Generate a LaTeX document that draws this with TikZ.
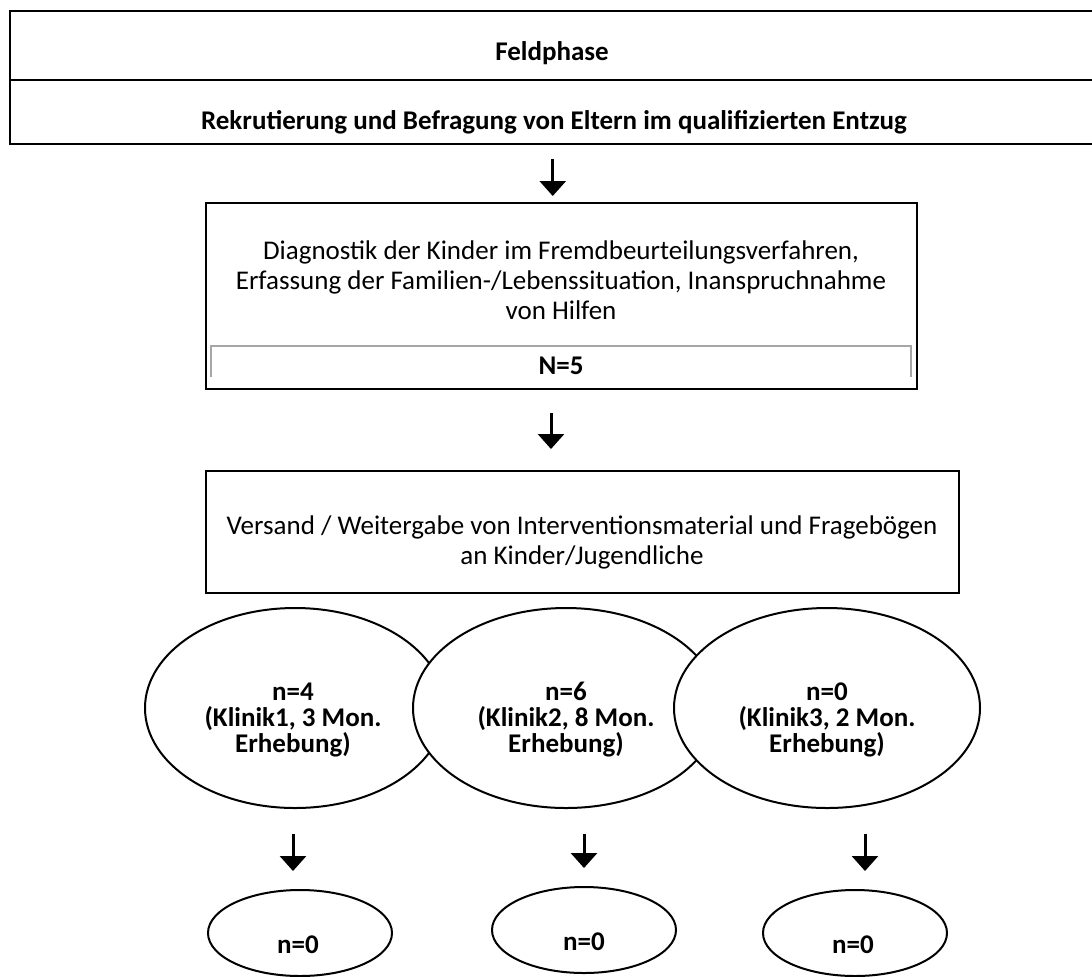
\documentclass[tikz,border=0pt]{standalone}
\usepackage{fontspec}
\setmainfont{Carlito}
\usetikzlibrary{shapes.geometric,arrows.meta}

\tikzset{
  frame/.style={draw, line width=1pt, inner sep=0pt},
  oval/.style={draw, ellipse, line width=1pt, fill=white, inner sep=0pt},
  arr/.style={-{Triangle[width=13pt,length=7.5pt]}, line width=1.5pt},
  innerline/.style={gray!70, line width=1pt},
  txt/.style={align=center, inner sep=0pt},
  bold/.style={txt, font=\fontsize{13.5}{15}\selectfont\bfseries},
  ovtxt/.style={txt, font=\fontsize{13.5}{13}\selectfont\bfseries}
}

\begin{document}
\begin{tikzpicture}[x=0.5pt, y=-0.5pt, font=\fontsize{13.5}{15}\selectfont]
    \useasboundingbox (0,0) rectangle (1092,976);

    % Feldphase
    \node[frame, minimum width=543.25pt, minimum height=34.75pt] (feld) at (552.75,45.25) {};
    \node[frame, minimum width=543.25pt, minimum height=32pt] (rekru) at (552.75,112) {};
    \node[bold] (feldtxt) at (552,53) {Feldphase};
    \node[bold] (rekrutxt) at (554,122) {Rekrutierung und Befragung von Eltern im qualifizierten Entzug};

    % Diagnostik
    \node[frame, minimum width=355.5pt, minimum height=93pt] (diag) at (561.5,296) {};
    \node[txt] (diagtxt) at (561,280) {Diagnostik der Kinder im Fremdbeurteilungsverfahren,\\
        Erfassung der Familien-/Lebenssituation, Inanspruchnahme\\ von Hilfen};
    \draw[innerline] (211,377) |- (911,346) -- (911,377);
    \node[bold] (nfive) at (561,366) {N=5};

    % Versand
    \node[frame, minimum width=376.5pt, minimum height=61pt] (versand) at (582.5,532) {};
    \node[txt] (versandtxt) at (582,542) {Versand / Weitergabe von Interventionsmaterial und Frageb\"ogen\\
        an Kinder/Jugendliche};

    \draw[arr, shorten <=7pt, shorten >=3pt] (rekru.south) -- (rekru.south |- diag.north);
    \draw[arr, shorten <=11.5pt, shorten >=10.5pt] ([xshift=-5.25pt]diag.south) -- ([xshift=-5.25pt]diag.south |- versand.north);

    % Kliniken
    \node[oval, minimum width=150pt, minimum height=100pt] (klinik1) at (295,708) {};
    \node[oval, minimum width=153pt, minimum height=100pt] (klinik2) at (566,708) {};
    \node[oval, minimum width=153pt, minimum height=100pt] (klinik3) at (827,708) {};
    \node[ovtxt] (klinik1txt) at (293,720) {n=4\\ (Klinik1, 3 Mon.\\ Erhebung)};
    \node[ovtxt] (klinik2txt) at (566,720) {n=6\\ (Klinik2, 8 Mon.\\ Erhebung)};
    \node[ovtxt] (klinik3txt) at (827,720) {n=0\\ (Klinik3, 2 Mon.\\ Erhebung)};

    % Nacherhebung
    \node[oval, minimum width=92pt, minimum height=43pt] (nach1) at (300,933) {};
    \node[oval, minimum width=92pt, minimum height=43pt] (nach2) at (584,930) {};
    \node[oval, minimum width=92pt, minimum height=43pt] (nach3) at (855,933) {};
    \node[bold] (nach1txt) at (298,945) {n=0};
    \node[bold] (nach2txt) at (584,942) {n=0};
    \node[bold] (nach3txt) at (853,945) {n=0};

    \draw[arr, shorten <=12.5pt, shorten >=9pt] ([xshift=-1pt]klinik1.south) -- ([xshift=-1pt]klinik1.south |- nach1.north);
    \draw[arr, shorten <=12.5pt, shorten >=9pt] (klinik2.south -| nach2.north) -- (nach2.north);
    \draw[arr, shorten <=12.5pt, shorten >=9pt] ([xshift=5pt]klinik3.south -| nach3.north) -- ([xshift=5pt]nach3.north);
\end{tikzpicture}
\end{document}
